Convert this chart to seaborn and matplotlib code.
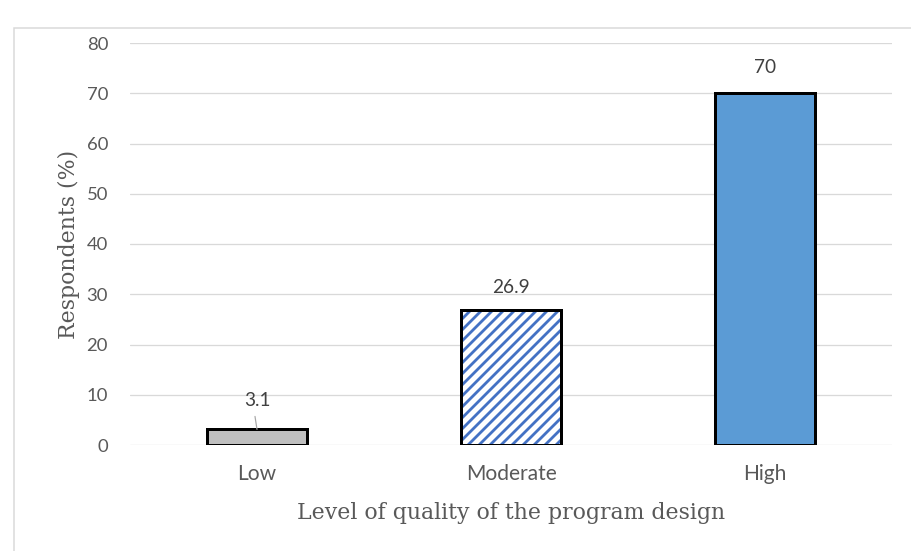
import matplotlib
matplotlib.use("Agg")
import matplotlib.pyplot as plt
from matplotlib.colors import to_rgba
from matplotlib.patches import Rectangle
import seaborn as sns
import pandas as pd

# Survey results
levels = ["Low", "Moderate", "High"]
respondents_pct = [3.1, 26.9, 70]
y_ticks = [0, 10, 20, 30, 40, 50, 60, 70, 80]

DPI = 132
W, H = 911, 551


def px(p):
    """pixels -> points at the figure dpi"""
    return p * 72.0 / DPI


sns.set_theme(style="white")
plt.rcParams["hatch.linewidth"] = px(2.8)

df = pd.DataFrame({"level": levels, "pct": respondents_pct})

fig = plt.figure(figsize=(W / DPI, H / DPI), dpi=DPI)
ax = fig.add_axes([130 / W, (H - 445) / H, (892 - 130) / W, (445 - 43) / H])

sns.barplot(data=df, x="level", y="pct", order=levels, width=0.394,
            color="#5B9BD5", ax=ax, zorder=3)

fills = ["#BFBFBF", "white", "#5B9BD5"]
hatches = [None, "////", None]
stripe = "#4472C4"
for bar, fc, h in zip(ax.patches, fills, hatches):
    bar.set_facecolor(fc)
    bar.set_edgecolor("black")
    bar.set_linewidth(px(3))
    if h:
        bar.set_hatch(h)
        if hasattr(bar, "set_hatchcolor"):
            bar.set_hatchcolor(stripe)
        else:
            bar._hatch_color = to_rgba(stripe)

ax.set_ylim(0, 80)
ax.set_xlim(-0.5, 2.5)
ax.set_yticks(y_ticks)
ax.yaxis.grid(True, color="#D9D9D9", linewidth=px(1.3), zorder=0)
ax.xaxis.grid(False)
for s in ax.spines.values():
    s.set_visible(False)

ax.set_yticklabels([str(t) for t in y_ticks], family="Lato", size=px(18.5),
                   color="#595959")
ax.set_xticklabels(levels, family="Lato", size=px(21), color="#595959")
ax.tick_params(axis="y", length=0, pad=px(22))
ax.tick_params(axis="x", length=0, pad=px(19))

label_font = dict(family="DejaVu Serif", size=px(22), color="#595959")
ax.set_ylabel("Respondents (%)", labelpad=px(7), **label_font)
ax.set_xlabel("Level of quality of the program design", labelpad=px(18),
              **label_font)

# value labels above the bars
offsets = [29, 22, 26]
for i, (v, off) in enumerate(zip(respondents_pct, offsets)):
    ax.annotate(f"{v:g}", xy=(i, v), xytext=(0, px(off)),
                textcoords="offset points", ha="center", va="center",
                family="Lato", size=px(19), color="#404040")
# leader line for the small bar's label
ax.annotate("", xy=(0, respondents_pct[0]), xytext=(px(-2), px(13)),
            textcoords="offset points",
            arrowprops=dict(arrowstyle="-", color="#A6A6A6", lw=px(1.2),
                            shrinkA=0, shrinkB=0))

# chart-area frame
fig.patches.append(Rectangle((14 / W, -0.05), 1.2, (H - 28) / H + 0.05,
                             transform=fig.transFigure, fill=False,
                             edgecolor="#D9D9D9", linewidth=px(1.5)))

fig.savefig("out.png", dpi=DPI, facecolor="white")
